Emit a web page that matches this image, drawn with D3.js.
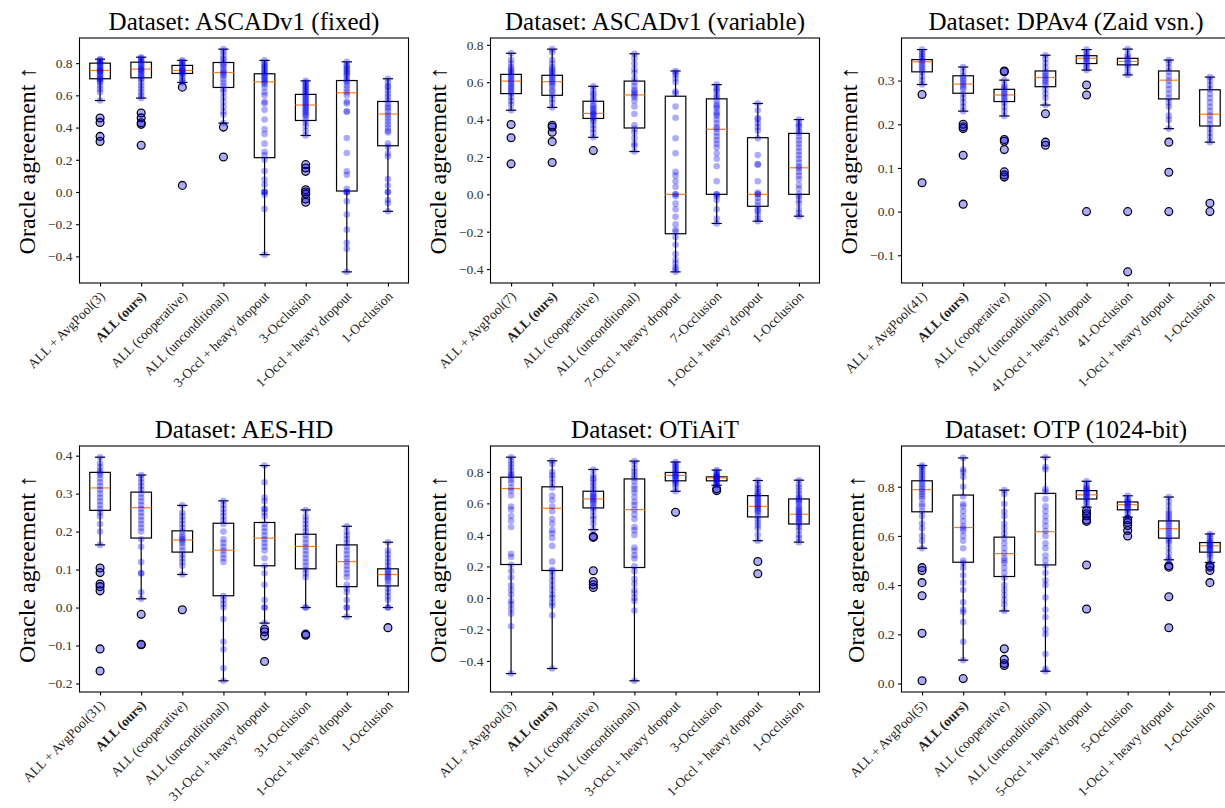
<!DOCTYPE html>
<html><head><meta charset="utf-8">
<script src="https://cdn.jsdelivr.net/npm/d3@7"></script>
<style>body{margin:0;background:#fff} text{font-family:"Liberation Serif","Times New Roman",serif}</style>
</head><body><svg id="c" width="1225" height="808"></svg>
<script>
// ---------- Panel 1: ASCADv1 (fixed) ----------
const fixedLabels = ["ALL + AvgPool(3)","ALL (ours)","ALL (cooperative)","ALL (unconditional)","3-Occl + heavy dropout","3-Occlusion","1-Occl + heavy dropout","1-Occlusion"];
// [lower whisker, q1, median, q3, upper whisker]
const fixedStats = [[0.568,0.703,0.755,0.800,0.825],[0.583,0.709,0.763,0.806,0.837],[0.680,0.736,0.755,0.786,0.817],[0.428,0.649,0.742,0.804,0.887],[-0.389,0.213,0.684,0.734,0.817],[0.351,0.444,0.540,0.606,0.690],[-0.496,0.006,0.616,0.692,0.808],[-0.120,0.287,0.484,0.562,0.703]];
const fixedOutliers = [[0.459,0.432,0.345,0.314],[0.49,0.46,0.43,0.42,0.29],[0.651,0.041],[0.403,0.217],[],[0.17,0.149,0.128,0.014,0.0,-0.012,-0.043,-0.064],[],[]];
const fixedPoints = [
[0.825,0.82,0.81,0.80,0.80,0.79,0.78,0.77,0.76,0.76,0.75,0.75,0.74,0.73,0.72,0.71,0.70,0.70,0.69,0.68,0.66,0.64,0.62,0.568],
[0.837,0.83,0.82,0.81,0.80,0.79,0.78,0.77,0.76,0.76,0.75,0.74,0.73,0.72,0.71,0.70,0.68,0.66,0.64,0.62,0.60,0.583],
[0.817,0.81,0.80,0.79,0.78,0.77,0.76,0.76,0.75,0.75,0.74,0.74,0.73,0.72,0.70,0.69,0.68],
[0.887,0.87,0.85,0.83,0.82,0.80,0.79,0.78,0.76,0.75,0.74,0.73,0.72,0.70,0.68,0.66,0.64,0.62,0.59,0.56,0.53,0.50,0.48,0.428],
[0.817,0.80,0.79,0.78,0.77,0.76,0.75,0.74,0.73,0.72,0.71,0.70,0.69,0.68,0.67,0.65,0.62,0.60,0.56,0.55,0.51,0.45,0.39,0.36,0.30,0.25,0.23,0.20,0.13,0.077,0.045,0.0,0.0,0.0,-0.017,-0.105,-0.389],
[0.69,0.68,0.67,0.66,0.65,0.64,0.63,0.62,0.61,0.60,0.59,0.58,0.57,0.56,0.55,0.54,0.53,0.52,0.51,0.50,0.49,0.48,0.47,0.45,0.43,0.41,0.38,0.351],
[0.808,0.79,0.78,0.77,0.76,0.75,0.74,0.73,0.72,0.70,0.69,0.68,0.66,0.64,0.62,0.60,0.56,0.55,0.50,0.50,0.335,0.242,0.128,0.107,0.02,0.0,0.0,0.0,-0.058,-0.14,-0.234,-0.316,-0.353,-0.496],
[0.703,0.68,0.66,0.65,0.63,0.61,0.59,0.57,0.55,0.53,0.52,0.50,0.48,0.46,0.44,0.42,0.40,0.38,0.37,0.30,0.28,0.24,0.22,0.08,0.04,0.0,0.0,-0.05,-0.07,-0.12]];
const fixedTicks = [-0.4,-0.2,0.0,0.2,0.4,0.6,0.8];

// ---------- Panel 2: ASCADv1 (variable) ----------
const varLabels = ["ALL + AvgPool(7)","ALL (ours)","ALL (cooperative)","ALL (unconditional)","7-Occl + heavy dropout","7-Occlusion","1-Occl + heavy dropout","1-Occlusion"];
const varStats = [[0.45,0.539,0.606,0.642,0.755],[0.465,0.53,0.603,0.637,0.777],[0.305,0.406,0.433,0.498,0.578],[0.229,0.355,0.532,0.606,0.752],[-0.415,-0.211,0.0,0.525,0.66],[-0.156,0.0,0.348,0.511,0.587],[-0.144,-0.064,0.0,0.303,0.486],[-0.117,0.0,0.142,0.326,0.40]];
const varOutliers = [[0.374,0.303,0.163],[0.37,0.36,0.332,0.282,0.17],[0.234],[],[],[],[],[]];
const varPoints = [
[0.755,0.72,0.70,0.68,0.67,0.66,0.65,0.64,0.63,0.62,0.61,0.60,0.59,0.58,0.57,0.56,0.55,0.54,0.52,0.50,0.48,0.45],
[0.777,0.76,0.72,0.70,0.68,0.67,0.66,0.65,0.64,0.63,0.62,0.61,0.60,0.59,0.58,0.56,0.55,0.53,0.51,0.49,0.465],
[0.578,0.56,0.54,0.53,0.51,0.50,0.48,0.47,0.46,0.45,0.44,0.43,0.43,0.42,0.41,0.40,0.39,0.37,0.35,0.33,0.305],
[0.752,0.73,0.70,0.67,0.65,0.62,0.60,0.58,0.56,0.55,0.54,0.53,0.52,0.50,0.47,0.43,0.37,0.35,0.33,0.30,0.27,0.26,0.229],
[0.66,0.65,0.64,0.62,0.60,0.55,0.54,0.47,0.41,0.30,0.22,0.12,0.10,0.07,0.04,0.0,0.0,-0.01,-0.05,-0.08,-0.12,-0.16,-0.19,-0.20,-0.23,-0.27,-0.32,-0.35,-0.37,-0.39,-0.40,-0.415],
[0.587,0.57,0.56,0.55,0.53,0.52,0.50,0.48,0.47,0.46,0.44,0.43,0.42,0.40,0.38,0.36,0.35,0.33,0.31,0.29,0.27,0.25,0.22,0.19,0.15,0.07,0.0,0.0,-0.01,-0.03,-0.08,-0.13,-0.156],
[0.486,0.45,0.41,0.40,0.38,0.36,0.34,0.30,0.21,0.16,0.16,0.07,0.01,0.0,0.0,-0.02,-0.04,-0.06,-0.08,-0.09,-0.11,-0.13,-0.144],
[0.40,0.38,0.37,0.36,0.34,0.33,0.31,0.29,0.27,0.25,0.23,0.21,0.19,0.17,0.15,0.14,0.12,0.10,0.08,0.05,0.03,0.0,-0.01,-0.03,-0.05,-0.08,-0.10,-0.117]];
const varTicks = [-0.4,-0.2,0.0,0.2,0.4,0.6,0.8];

// ---------- Panel 3: DPAv4 (Zaid vsn.) ----------
const dpaLabels = ["ALL + AvgPool(41)","ALL (ours)","ALL (cooperative)","ALL (unconditional)","41-Occl + heavy dropout","41-Occlusion","1-Occl + heavy dropout","1-Occlusion"];
const dpaStats = [[0.291,0.32,0.343,0.348,0.371],[0.23,0.271,0.292,0.311,0.331],[0.219,0.252,0.267,0.28,0.301],[0.244,0.286,0.307,0.322,0.358],[0.324,0.339,0.351,0.357,0.371],[0.313,0.336,0.344,0.351,0.372],[0.19,0.258,0.301,0.322,0.347],[0.159,0.196,0.223,0.279,0.308]];
const dpaOutliers = [[0.268,0.066],[0.2,0.194,0.19,0.129,0.017],[0.322,0.32,0.165,0.161,0.142,0.091,0.084,0.079],[0.224,0.159,0.152],[0.29,0.267,0.0],[0.0,-0.138],[0.159,0.09,0.0],[0.019,0.0]];
const dpaPoints = [
[0.371,0.365,0.36,0.355,0.35,0.345,0.34,0.335,0.33,0.325,0.32,0.31,0.30,0.291],
[0.331,0.32,0.31,0.305,0.30,0.295,0.29,0.285,0.28,0.27,0.26,0.25,0.24,0.23],
[0.301,0.29,0.285,0.28,0.275,0.27,0.265,0.26,0.255,0.25,0.24,0.23,0.219],
[0.358,0.35,0.34,0.33,0.32,0.315,0.31,0.305,0.30,0.295,0.29,0.28,0.27,0.26,0.244],
[0.371,0.365,0.36,0.355,0.35,0.35,0.345,0.34,0.335,0.33,0.324],
[0.372,0.36,0.355,0.35,0.345,0.34,0.335,0.33,0.32,0.313],
[0.347,0.34,0.33,0.32,0.31,0.30,0.29,0.28,0.27,0.26,0.25,0.24,0.22,0.21,0.19],
[0.308,0.30,0.29,0.28,0.27,0.26,0.25,0.24,0.23,0.22,0.21,0.20,0.19,0.18,0.17,0.159]];
const dpaTicks = [-0.1,0.0,0.1,0.2,0.3];

// ---------- Panel 4: AES-HD ----------
const aesLabels = ["ALL + AvgPool(31)","ALL (ours)","ALL (cooperative)","ALL (unconditional)","31-Occl + heavy dropout","31-Occlusion","1-Occl + heavy dropout","1-Occlusion"];
const aesStats = [[0.165,0.256,0.315,0.356,0.396],[0.023,0.183,0.263,0.304,0.349],[0.087,0.146,0.178,0.202,0.269],[-0.193,0.031,0.151,0.222,0.281],[-0.041,0.11,0.183,0.224,0.374],[0.0,0.102,0.161,0.193,0.257],[-0.024,0.055,0.121,0.165,0.214],[0.0,0.057,0.087,0.102,0.172]];
const aesOutliers = [[0.104,0.092,0.062,0.055,0.044,-0.109,-0.167],[-0.018,-0.097,-0.098],[-0.006],[],[-0.057,-0.064,-0.075,-0.142],[-0.07,-0.073],[],[-0.053]];
const aesPoints = [
[0.396,0.38,0.37,0.36,0.355,0.35,0.34,0.33,0.32,0.31,0.30,0.29,0.28,0.27,0.26,0.25,0.24,0.22,0.20,0.165],
[0.349,0.34,0.33,0.32,0.31,0.30,0.29,0.28,0.27,0.26,0.25,0.24,0.23,0.22,0.21,0.20,0.18,0.16,0.12,0.09,0.09,0.04,0.023],
[0.269,0.25,0.24,0.23,0.22,0.21,0.20,0.19,0.185,0.18,0.175,0.17,0.16,0.15,0.14,0.13,0.12,0.11,0.087],
[0.281,0.27,0.26,0.25,0.24,0.23,0.22,0.20,0.18,0.17,0.16,0.15,0.14,0.13,0.12,0.03,0.02,0.01,0.0,-0.03,-0.09,-0.11,-0.16,-0.193],
[0.374,0.33,0.29,0.28,0.26,0.26,0.25,0.24,0.22,0.21,0.20,0.19,0.18,0.17,0.16,0.15,0.13,0.11,0.09,0.06,0.02,0.0,0.0,-0.041],
[0.257,0.24,0.23,0.22,0.21,0.20,0.19,0.18,0.17,0.16,0.15,0.14,0.13,0.12,0.11,0.10,0.09,0.08,0.0,0.0],
[0.214,0.20,0.19,0.18,0.17,0.16,0.15,0.14,0.13,0.12,0.11,0.10,0.09,0.08,0.06,0.05,0.04,0.02,0.0,0.0,-0.024],
[0.172,0.15,0.14,0.13,0.12,0.11,0.10,0.095,0.09,0.085,0.08,0.075,0.07,0.06,0.05,0.04,0.03,0.02,0.0,0.0]];
const aesTicks = [-0.2,-0.1,0.0,0.1,0.2,0.3,0.4];

// ---------- Panel 5: OTiAiT ----------
const otiLabels = ["ALL + AvgPool(3)","ALL (ours)","ALL (cooperative)","ALL (unconditional)","3-Occl + heavy dropout","3-Occlusion","1-Occl + heavy dropout","1-Occlusion"];
const otiStats = [[-0.48,0.212,0.694,0.766,0.893],[-0.448,0.174,0.569,0.705,0.87],[0.433,0.571,0.628,0.677,0.815],[-0.526,0.193,0.56,0.755,0.868],[0.677,0.743,0.777,0.796,0.862],[0.715,0.743,0.762,0.768,0.811],[0.363,0.514,0.581,0.649,0.745],[0.354,0.469,0.531,0.628,0.747]];
const otiOutliers = [[],[],[0.39,0.384,0.172,0.104,0.083,0.066],[],[0.543],[0.692,0.681],[0.231,0.153],[]];
const otiPoints = [
[0.893,0.87,0.85,0.83,0.81,0.79,0.78,0.77,0.75,0.73,0.70,0.68,0.65,0.58,0.56,0.52,0.49,0.45,0.28,0.26,0.21,0.17,0.13,0.08,0.05,0.02,-0.02,-0.04,-0.07,-0.10,-0.18,-0.48],
[0.87,0.85,0.80,0.78,0.76,0.73,0.70,0.65,0.62,0.58,0.55,0.50,0.47,0.43,0.41,0.38,0.33,0.23,0.18,0.17,0.14,0.11,0.08,0.05,0.02,0.0,-0.03,-0.05,-0.11,-0.448],
[0.815,0.78,0.76,0.75,0.73,0.71,0.69,0.67,0.66,0.65,0.64,0.63,0.62,0.61,0.60,0.58,0.57,0.55,0.52,0.50,0.47,0.433],
[0.868,0.85,0.82,0.80,0.78,0.76,0.74,0.71,0.69,0.67,0.64,0.61,0.59,0.56,0.53,0.50,0.45,0.43,0.40,0.32,0.30,0.27,0.25,0.20,0.17,0.12,0.09,0.05,0.03,0.0,-0.02,-0.08,-0.526],
[0.862,0.85,0.84,0.83,0.82,0.81,0.80,0.79,0.78,0.775,0.77,0.76,0.75,0.74,0.73,0.72,0.70,0.677],
[0.811,0.80,0.79,0.78,0.775,0.77,0.765,0.76,0.755,0.75,0.745,0.74,0.73,0.72,0.715],
[0.745,0.72,0.70,0.69,0.67,0.66,0.65,0.64,0.63,0.62,0.61,0.60,0.59,0.58,0.57,0.56,0.55,0.54,0.52,0.50,0.48,0.46,0.44,0.40,0.363],
[0.747,0.72,0.70,0.68,0.66,0.64,0.63,0.62,0.61,0.60,0.58,0.57,0.56,0.55,0.54,0.53,0.52,0.51,0.50,0.49,0.48,0.47,0.45,0.43,0.40,0.38,0.354]];
const otiTicks = [-0.4,-0.2,0.0,0.2,0.4,0.6,0.8];

// ---------- Panel 6: OTP (1024-bit) ----------
const otpLabels = ["ALL + AvgPool(5)","ALL (ours)","ALL (cooperative)","ALL (unconditional)","5-Occl + heavy dropout","5-Occlusion","1-Occl + heavy dropout","1-Occlusion"];
const otpStats = [[0.55,0.698,0.788,0.824,0.886],[0.095,0.493,0.634,0.766,0.917],[0.295,0.435,0.528,0.595,0.786],[0.05,0.482,0.617,0.773,0.92],[0.717,0.75,0.767,0.784,0.822],[0.676,0.706,0.727,0.738,0.763],[0.503,0.591,0.629,0.661,0.758],[0.492,0.534,0.56,0.573,0.608]];
const otpOutliers = [[0.471,0.459,0.41,0.357,0.204,0.011],[0.02],[0.141,0.098,0.081,0.073],[],[0.702,0.69,0.682,0.665,0.659,0.482,0.303],[0.666,0.655,0.642,0.622,0.60],[0.479,0.473,0.353,0.227],[0.479,0.473,0.459,0.41]];
const otpPoints = [
[0.886,0.88,0.87,0.86,0.85,0.84,0.83,0.82,0.81,0.80,0.79,0.78,0.77,0.76,0.75,0.73,0.72,0.70,0.68,0.65,0.63,0.60,0.58,0.55],
[0.917,0.87,0.86,0.84,0.80,0.76,0.73,0.72,0.70,0.68,0.66,0.64,0.63,0.62,0.60,0.58,0.55,0.50,0.49,0.47,0.44,0.41,0.38,0.33,0.30,0.29,0.25,0.17,0.095],
[0.786,0.77,0.73,0.70,0.68,0.65,0.63,0.61,0.59,0.57,0.55,0.53,0.51,0.50,0.49,0.47,0.45,0.43,0.40,0.38,0.36,0.34,0.32,0.295],
[0.92,0.88,0.87,0.79,0.78,0.75,0.72,0.70,0.68,0.66,0.64,0.62,0.60,0.57,0.55,0.52,0.50,0.48,0.45,0.42,0.40,0.35,0.30,0.27,0.22,0.20,0.12,0.06,0.05],
[0.822,0.81,0.80,0.795,0.79,0.785,0.78,0.775,0.77,0.765,0.76,0.755,0.75,0.74,0.73,0.717],
[0.763,0.75,0.745,0.74,0.735,0.73,0.725,0.72,0.715,0.71,0.70,0.69,0.676],
[0.758,0.74,0.72,0.70,0.69,0.68,0.67,0.66,0.65,0.64,0.63,0.62,0.61,0.60,0.59,0.58,0.57,0.55,0.53,0.51,0.503],
[0.608,0.60,0.59,0.58,0.575,0.57,0.565,0.56,0.555,0.55,0.545,0.54,0.53,0.52,0.51,0.492]];
const otpTicks = [0.0,0.2,0.4,0.6,0.8];

const panels = [
  {title:"Dataset: ASCADv1 (fixed)", labels:fixedLabels, stats:fixedStats, points:fixedPoints, outliers:fixedOutliers, ticks:fixedTicks, x0:79.5, y0:38, w:329, h:245},
  {title:"Dataset: ASCADv1 (variable)", labels:varLabels, stats:varStats, points:varPoints, outliers:varOutliers, ticks:varTicks, x0:490.5, y0:38, w:329, h:245},
  {title:"Dataset: DPAv4 (Zaid vsn.)", labels:dpaLabels, stats:dpaStats, points:dpaPoints, outliers:dpaOutliers, ticks:dpaTicks, x0:901.5, y0:38, w:329, h:245},
  {title:"Dataset: AES-HD", labels:aesLabels, stats:aesStats, points:aesPoints, outliers:aesOutliers, ticks:aesTicks, x0:79.5, y0:446, w:329, h:246},
  {title:"Dataset: OTiAiT", labels:otiLabels, stats:otiStats, points:otiPoints, outliers:otiOutliers, ticks:otiTicks, x0:490.5, y0:446, w:329, h:246},
  {title:"Dataset: OTP (1024-bit)", labels:otpLabels, stats:otpStats, points:otpPoints, outliers:otpOutliers, ticks:otpTicks, x0:901.5, y0:446, w:329, h:246}
];

const svg = d3.select("#c");
const TICKFS = 13.5, TITLEFS = 25, LABFS = 24;

panels.forEach(p => {
  const g = svg.append("g");
  const x = d3.scalePoint().domain(p.labels).range([p.x0, p.x0 + p.w]).padding(0.5);
  const step = x.step();
  const all = [].concat(...p.points, ...p.outliers, ...p.stats);
  const [mn, mx] = d3.extent(all);
  const pad = (mx - mn) * 0.05;
  const y = d3.scaleLinear().domain([mn - pad, mx + pad]).range([p.y0 + p.h, p.y0]);
  const bw = step * 0.5, cw = step * 0.25;

  const boxes = g.append("g");
  p.labels.forEach((lab, i) => {
    const cx = x(lab);
    const [lo, q1, md, q3, hi] = p.stats[i];
    const b = boxes.append("g").attr("stroke", "#000").attr("stroke-width", 1.2).attr("fill", "none");
    b.append("line").attr("x1", cx).attr("x2", cx).attr("y1", y(q3)).attr("y2", y(hi));
    b.append("line").attr("x1", cx).attr("x2", cx).attr("y1", y(q1)).attr("y2", y(lo));
    b.append("line").attr("x1", cx - cw/2).attr("x2", cx + cw/2).attr("y1", y(hi)).attr("y2", y(hi));
    b.append("line").attr("x1", cx - cw/2).attr("x2", cx + cw/2).attr("y1", y(lo)).attr("y2", y(lo));
    b.append("rect").attr("x", cx - bw/2).attr("width", bw).attr("y", y(q3)).attr("height", y(q1) - y(q3));
    b.append("line").attr("x1", cx - bw/2).attr("x2", cx + bw/2).attr("y1", y(md)).attr("y2", y(md)).attr("stroke", "#ff7f0e");
    b.selectAll("circle.fl").data(p.outliers[i]).join("circle").attr("class","fl")
      .attr("cx", cx).attr("cy", d => y(d)).attr("r", 3.9).attr("stroke-width", 1.3);
  });
  const pts = g.append("g");
  p.labels.forEach((lab, i) => {
    const vals = p.points[i].concat(p.outliers[i]);
    pts.selectAll(null).data(vals).join("circle")
      .attr("cx", x(lab)).attr("cy", d => y(d)).attr("r", 3.3)
      .attr("fill", "#0000ff").attr("fill-opacity", 0.33);
  });

  // frame
  g.append("rect").attr("x", p.x0).attr("y", p.y0).attr("width", p.w).attr("height", p.h)
    .attr("fill", "none").attr("stroke", "#000").attr("stroke-width", 1.1);

  // y axis
  const ya = g.append("g").attr("transform", `translate(${p.x0},0)`)
    .call(d3.axisLeft(y).tickValues(p.ticks).tickSize(3.5).tickPadding(3.5).tickFormat(d3.format(".1f")));
  ya.select(".domain").remove();
  ya.attr("font-family", null);
  ya.selectAll("line").attr("stroke-width", 1.1);
  ya.selectAll("text").attr("font-size", TICKFS).attr("fill", "#333");

  // x axis
  const xa = g.append("g").attr("transform", `translate(0,${p.y0 + p.h})`)
    .call(d3.axisBottom(x).tickSize(3.5));
  xa.select(".domain").remove();
  xa.attr("font-family", null);
  xa.selectAll("line").attr("stroke-width", 1.1);
  xa.selectAll("text").attr("font-size", TICKFS).attr("fill", "#222")
    .attr("y", null).attr("dy", null).attr("text-anchor", "end")
    .attr("transform", "translate(5,14) rotate(-45)")
    .attr("font-weight", d => d === "ALL (ours)" ? "bold" : null);

  // title
  g.append("text").attr("x", p.x0 + p.w/2).attr("y", p.y0 - 8).attr("text-anchor", "middle")
    .attr("font-size", TITLEFS).text(p.title);

  // y label
  const bb = ya.node().getBBox();
  const lx = p.x0 + bb.x - 8 - LABFS * 0.22;
  g.append("text").attr("transform", `translate(${lx},${p.y0 + p.h/2}) rotate(-90)`)
    .attr("text-anchor", "middle").attr("font-size", LABFS).text("Oracle agreement \u2191");
});
</script></body></html>
